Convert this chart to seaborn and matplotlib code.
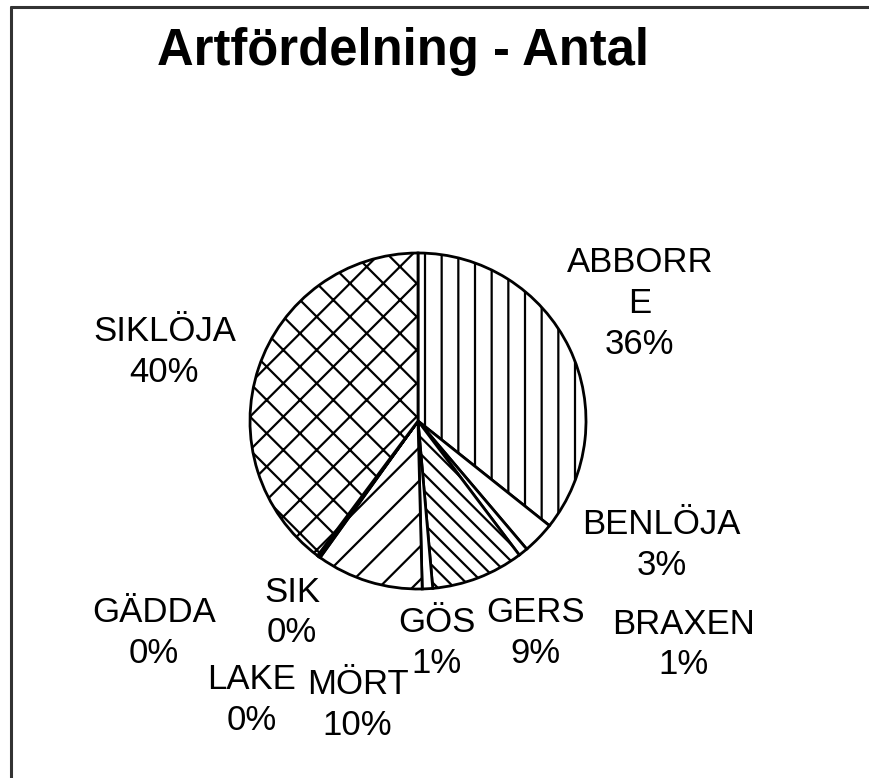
import matplotlib
matplotlib.use("Agg")
import matplotlib.pyplot as plt
import seaborn as sns
from matplotlib.lines import Line2D

# ==============================
# DATA
# ==============================
species = ["ABBORRE", "BENLÖJA", "BRAXEN", "GERS", "GÖS",
           "MÖRT", "LAKE", "SIK", "GÄDDA", "SIKLÖJA"]
shown_names = ["ABBORR\nE", "BENLÖJA", "BRAXEN", "GERS", "GÖS",
               "MÖRT", "LAKE", "SIK", "GÄDDA", "SIKLÖJA"]
share = [35.7, 3.1, 0.9, 8.9, 1.0, 10.3, 0.1, 0.1, 0.1, 39.8]

# layout / style (not data)
hatches = ["|", "", "", "\\\\", "", "/", "", "", "", "x"]
label_pos = [(1.32, 0.70), (1.45, -0.74), (1.58, -1.33), (0.70, -1.26),
             (0.11, -1.32), (-0.36, -1.69), (-0.99, -1.66), (-0.75, -1.14),
             (-1.57, -1.26), (-1.51, 0.41)]

sns.set_theme(style="white")
plt.rcParams["font.family"] = ["Liberation Sans", "DejaVu Sans"]
plt.rcParams["text.color"] = "black"
plt.rcParams["hatch.linewidth"] = 1.6

fig = plt.figure(figsize=(8.7, 7.78), dpi=100)
fig.patch.set_facecolor("white")
ax = fig.add_axes([0, 0, 1, 1])

wedges, _ = ax.pie(share, startangle=90, counterclock=False,
                   colors=["white"] * len(share),
                   wedgeprops=dict(edgecolor="black", linewidth=2))
for w, h in zip(wedges, hatches):
    w.set_hatch(h)

total = sum(share)
for name, v, (x, y) in zip(shown_names, share, label_pos):
    ax.text(x, y, f"{name}\n{v / total * 100:.0f}%", ha="center", va="center",
            multialignment="center", fontsize=25, linespacing=1.3,
            color="black")

# map pie (radius 1) onto pixel frame: center ~ (418, 421), radius ~168 px
r = 168
ax.set_xlim(-418 / r, (870 - 418) / r)
ax.set_ylim(-(778 - 421) / r, 421 / r)
ax.set_aspect("auto")
ax.axis("off")

fig.text(403 / 870, 1 - 52 / 778, "Artfördelning - Antal", ha="center",
         va="center", fontsize=36.5, fontweight="bold", color="black")

# chart border (left and top visible)
fig.add_artist(Line2D([11 / 870, 11 / 870], [0, 1 - 7 / 778],
                      color="#333333", linewidth=2.2))
fig.add_artist(Line2D([11 / 870, 1], [1 - 7 / 778, 1 - 7 / 778],
                      color="#333333", linewidth=2.2))

fig.savefig("out.png", dpi=100)
